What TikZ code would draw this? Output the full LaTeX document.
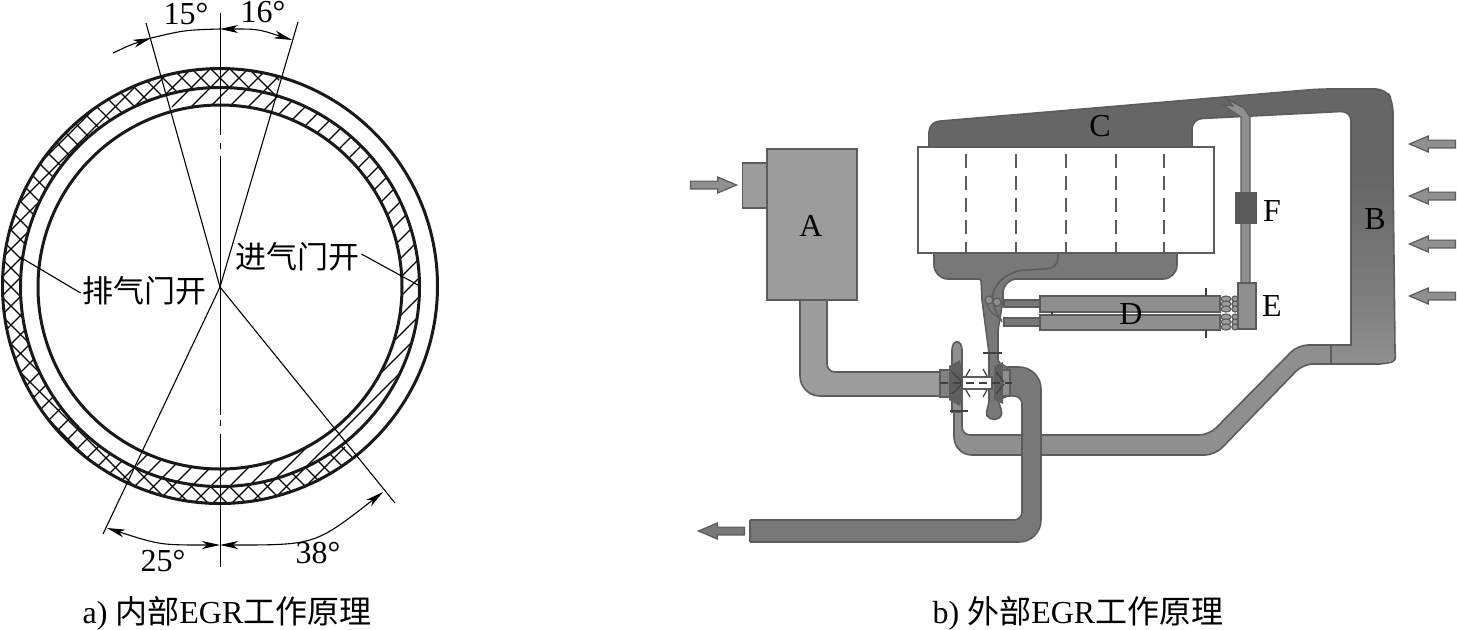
\documentclass[tikz,border=0pt]{standalone}
\usepackage{fontspec}
\setmainfont{Liberation Serif}
\newfontfamily\cjk{Noto Sans CJK SC}
\usetikzlibrary{positioning,arrows.meta,calc,shapes.arrows}
\definecolor{edgegray}{gray}{.36}
\definecolor{darkgas}{gray}{.40}
\definecolor{exhgas}{gray}{.47}
\definecolor{midair}{gray}{.56}
\definecolor{airgray}{gray}{.61}

\begin{document}
\begin{tikzpicture}[
    x=.5pt,y=-.5pt,
    >={Stealth[length=9pt,width=4pt,inset=2.5pt]},
    lab/.style={font=\fontsize{16}{18}\selectfont, inner sep=0pt},
    cnlab/.style={font=\fontsize{15.5}{18}\selectfont\cjk, inner sep=0pt},
    ring/.style={line width=1.5pt, draw=black!90},
    thin line/.style={line width=.55pt, draw=black},
    hatchline/.style={line width=.55pt, draw=black},
    pipe/.style={draw=edgegray, line width=.8pt, rounded corners=5pt},
    sharp/.style={draw=edgegray, line width=.8pt},
    tick/.style={draw=black!75, line width=.6pt},
    airarrow/.style={single arrow, draw=edgegray, fill=midair, line width=.6pt,
      minimum height=23pt, minimum width=8pt, inner sep=1.6pt,
      single arrow head extend=2pt, single arrow tip angle=46},
    letter/.style={lab, text=black}
  ]
    \useasboundingbox (0,0) rectangle (1457,629);
    \coordinate (cen) at (220,287);

    % left: valve timing rings
    \begin{scope}[shift={(cen)}]
      \begin{scope}
        \clip plot[domain=52:286,samples=90] (\x:217.5) -- plot[domain=286:52,samples=90] (\x:199.5) -- cycle;
        \foreach \c in {-323,-304,...,323} {
          \draw[hatchline] ({\c-300},300) -- ({\c+300},-300);
          \draw[hatchline] ({\c-300},-300) -- ({\c+300},300);
        }
      \end{scope}
      \begin{scope}
        \clip plot[domain=255:475,samples=90] (\x:199.5) -- plot[domain=475:255,samples=90] (\x:182) -- cycle;
        \foreach \c in {-323,-304,...,323}
          \draw[hatchline] ({\c-300},300) -- ({\c+300},-300);
      \end{scope}
    \end{scope}
    \draw[ring] (220,286) circle[radius=217.5];
    \draw[ring] (cen) circle[radius=199.5];
    \draw[ring] (cen) circle[radius=182];

    \coordinate (axtop) at (220.5,13);
    \coordinate (axbot) at (220.5,567);
    \draw[thin line] (axtop) -- (220.5,135) (220.5,143) -- (220.5,149) (220.5,156) -- (220.5,415)
      (220.5,420) -- (220.5,426) (220.5,434) -- (axbot);
    \coordinate (lineA) at (146,23);
    \coordinate (lineB) at (298,22);
    \coordinate (lineC) at (103,534);
    \coordinate (lineD) at (395,503);
    \foreach \p in {lineA,lineB,lineC,lineD}
      \draw[thin line] (cen) -- (\p);

    \draw[thin line,->] (113,53) .. controls (130,45) .. (151,38);
    \draw[thin line] (151,38) .. controls (185,30) .. (220,29);
    \draw[thin line,<->] (220,29) .. controls (258,29) .. (292,40);
    \draw[thin line,<->] (107,528) .. controls (160,545) .. (220,545);
    \draw[thin line,<->] (220,545) .. controls (315,545) .. (383,492);

    \node[lab] (deg15) at (186,14) {15°};
    \node[lab] (deg16) at (263,12) {16°};
    \node[lab] (deg25) at (163,561) {25°};
    \node[lab] (deg38) at (318,553) {38°};
    \node[cnlab] (exopen) at (145,291) {排气门开};
    \node[cnlab] (inopen) at (297,257) {进气门开};
    \coordinate (exend) at (20,257);
    \coordinate (inend) at (418,285);
    \draw[thin line] (exopen.west) ++(-2,2) -- (exend);
    \draw[thin line] (inopen.east) ++(2,-3) -- (inend);

    % right: engine with the EGR loop
    \draw[pipe,fill=airgray,rounded corners=3pt] (800,298) [rounded corners=10pt] -- (800,396) -- (962,396) -- (962,372) [rounded corners=4pt] -- (827,372) -- (827,298);
    \node[draw=edgegray, fill=airgray, line width=.8pt, minimum width=12.5pt, minimum height=22.5pt, inner sep=0pt] (filtcap) at (755,185.5) {};
    \node[draw=edgegray, fill=airgray, line width=.9pt, minimum width=45pt, minimum height=75.5pt, inner sep=0pt] (filter) at (812,224.5) {};
    \node[letter] (labA) at (811,226) {A};

    % air pipe to the compressor
    \draw[pipe,fill=midair] (1340,345) -- (1298,345) -- (1209,435) [rounded corners=4pt] -- (962,435) -- (962,395) -- (954,395) [rounded corners=9pt] -- (954,455) [rounded corners=5pt] -- (1215,455) -- (1303,364) -- (1340,364);
    \draw[draw=edgegray,line width=.8pt,fill=midair] (952,412) -- (952,350) .. controls (952,339) and (962,339) .. (962,350) -- (962,412) -- cycle;

    % intake manifold, cooler duct
    \draw[pipe,fill=darkgas] (929,165) [rounded corners=5pt] -- (929,122) -- (1319,89) -- (1386,89) -- (1393,102) -- (1393,190) -- (1351,190) -- (1351,111) -- (1192,119) -- (1192,165) -- cycle;
    \path[top color=darkgas,bottom color=midair,middle color=exhgas] (1351.4,172) -- (1393,172) -- (1395,350) -- (1395,360) -- (1380,364) -- (1331,364) -- (1331,345) -- (1351.4,345) -- cycle;
    \draw[sharp] (1393,172) -- (1395,350) .. controls (1396,362) .. (1380,364) -- (1331,364) -- (1331,345) -- (1351,345) -- (1351,172);
    \node[letter] (labB) at (1375,219) {B};
    \node[letter] (labC) at (1100,126) {C};

    % exhaust pipe
    \draw[pipe,fill=exhgas] (750,542) [rounded corners=11pt] -- (1041,542) -- (1041,367) [rounded corners=4pt] -- (1000,367) -- (1005,396) -- (1022,396) -- (1022,520) -- (750,520);
    \draw[sharp] (750,520) -- (750,542);

    % exhaust manifold
    \draw[pipe,fill=exhgas] (934,240) [rounded corners=7pt] -- (934,279) [rounded corners=1pt] -- (981,279) -- (982,300) -- (989,353) -- (989,402) -- (986,414) .. controls (990,421) and (1000,421) .. (1002,412) -- (998,400) -- (1008,396) -- (1008,368) -- (998,362) -- (998,330) -- (1003,300) [rounded corners=7pt] -- (1003,279) -- (1177,279) -- (1177,240) -- cycle;
    \draw[edgegray,line width=.8pt,rounded corners=5pt] (1058,252) -- (1058,268) -- (1012,271) -- (993,287) -- (992,305) -- (1002,322);
    \draw[edgegray,line width=.6pt] (985,300) .. controls (990,312) .. (1002,320);

    % turbo core
    \fill[exhgas!80!black] (949,366) -- (960,360) -- (962,372) -- (962,396) -- (960,406) -- (949,400) -- cycle;
    \fill[exhgas!80!black] (994,366) -- (1003,362) -- (1003,404) -- (994,400) -- cycle;
    \draw[sharp,fill=midair!90!black] (940,370) rectangle (950,397);
    \draw[sharp,fill=midair] (1002,370) rectangle (1010,396);
    \node[draw=edgegray, fill=white, line width=.7pt, minimum width=15pt, minimum height=6pt, inner sep=0pt] (shaft) at (977,383) {};
    \draw[tick,dash pattern=on 4pt off 2.5pt] (940,383) -- (1012,383);
    \foreach \bx/\by/\ex/\ey in {966/376/970/369,987/376/983/369,966/390/970/397,987/390/983/397,952/372/962/382,952/394/962/384,996/372/1004/382,996/394/1004/384}
      \draw[tick] (\bx,\by) -- (\ex,\ey);
    \draw[tick] (983,353) -- (1002,353);
    \draw[tick] (950,411) -- (968,411);

    % cylinder block
    \node[draw=edgegray, fill=white, line width=.9pt, minimum width=148pt, minimum height=53pt, inner sep=0pt] (block) at (1066,200) {};
    \foreach \d in {966,1016,1066,1116,1164}
      \draw[edgegray,line width=1pt,dash pattern=on 7pt off 4pt,dash phase=-3pt] (\d,148) -- (\d,253);

    % EGR path with cooler
    \draw[sharp,fill=midair,line width=.6pt] (1241,285) -- (1241,117) -- (1223,105) -- (1233,106) -- (1227,99) -- (1244,108) -- (1250,117) -- (1250,285) -- cycle;
    \node[fill=black!65, minimum width=11pt, minimum height=16pt, inner sep=0pt] (valve) at (1246,208) {};
    \node[letter] (labF) at (1272,211) {F};
    \draw[sharp,fill=exhgas] (1004,300) rectangle (1040,307);
    \draw[sharp,fill=exhgas] (1004,318) rectangle (1040,326);
    \node[draw=edgegray, fill=midair, line width=.8pt, minimum width=90pt, minimum height=8pt, inner sep=0pt] (coolerup) at (1130,304) {};
    \node[draw=edgegray, fill=midair, line width=.8pt, minimum width=90pt, minimum height=7.5pt, inner sep=0pt] (coolerlo) at (1130,322.5) {};
    \draw[tick] (1052,312) -- (1052,315);
    \node[letter] (labD) at (1131,314) {D};
    \node[draw=edgegray, fill=midair, line width=.8pt, minimum width=9pt, minimum height=23pt, inner sep=0pt] (mixer) at (1247,306) {};
    \node[letter] (labE) at (1272,306) {E};
    \foreach \ty in {299,304,309,317,322,327} {
      \draw[edgegray,fill=airgray,line width=.6pt] (1226,\ty) ellipse[x radius=5, y radius=3];
      \draw[edgegray,fill=airgray,line width=.6pt] (1235,\ty) circle[radius=3];
    }
    \draw[tick] (1206,288) -- (1206,296);
    \draw[tick] (1206,330) -- (1206,338);
    \draw[edgegray,fill=midair,line width=.6pt] (989,300) circle[radius=4];
    \draw[edgegray,fill=midair,line width=.6pt] (997,302) circle[radius=4];

    % flow arrows
    \node[airarrow] (airin) at (709,185) {};
    \node[airarrow,fill=exhgas,shape border rotate=180] (gasout) at (726,531) {};
    \foreach \ay/\an in {144/a,196/b,244/c,296/d}
      \node[airarrow,shape border rotate=180] (cool\an) at (1437,\ay) {};

    % captions
    \node[lab] (capa) at (227,613) {a) {\cjk 内部}EGR{\cjk 工作原理}};
    \node[lab] (capb) at (1078,613) {b) {\cjk 外部}EGR{\cjk 工作原理}};
\end{tikzpicture}
\end{document}
